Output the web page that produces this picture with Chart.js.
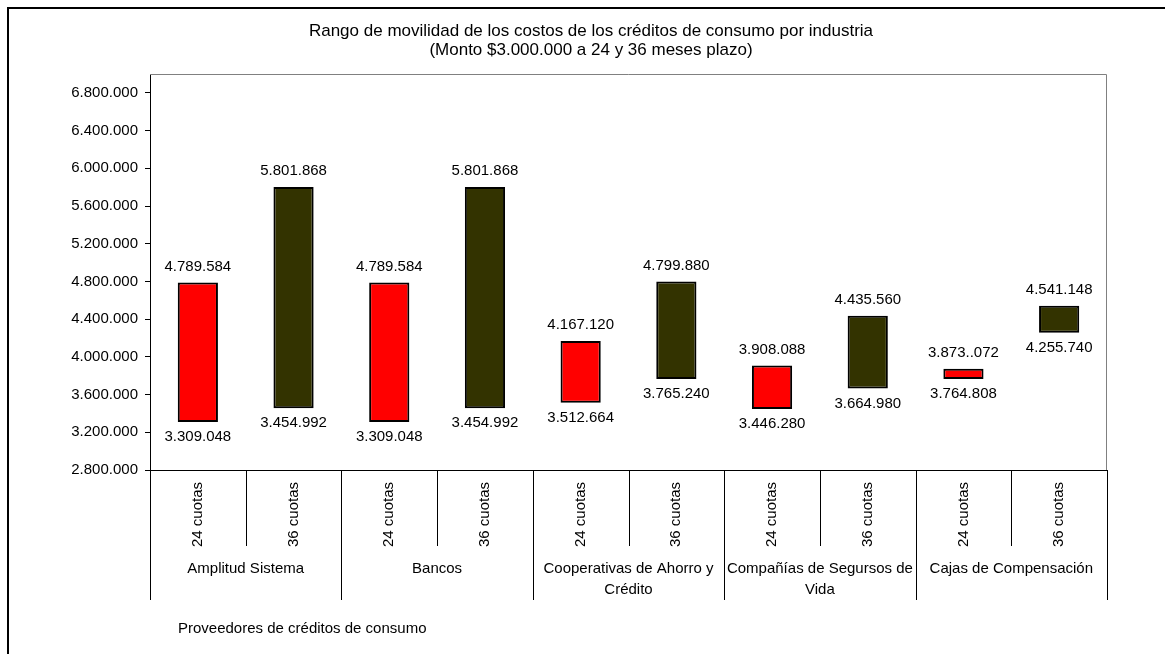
<!DOCTYPE html>
<html>
<head>
<meta charset="utf-8">
<script src="https://cdn.jsdelivr.net/npm/chart.js@4/dist/chart.umd.min.js"></script>
<style>
    body { margin: 0; background: #ffffff; }
    canvas { display: block; }
</style>
</head>
<body>
<canvas id="rangeChart" width="1165" height="654"></canvas>
<script>

//Providers (groups) and the two terms shown inside each group

const providers = [
    ["Amplitud Sistema"],
    ["Bancos"],
    ["Cooperativas de Ahorro y", "Crédito"],
    ["Compañías de Segursos de", "Vida"],
    ["Cajas de Compensación"]
];

const terms = ["24 cuotas", "36 cuotas"];

//Low and high cost for each provider, 24 months

const low24 = [3309048, 3309048, 3512664, 3446280, 3764808];
const high24 = [4789584, 4789584, 4167120, 3908088, 3873072];

//Low and high cost for each provider, 36 months

const low36 = [3454992, 3454992, 3765240, 3664980, 4255740];
const high36 = [5801868, 5801868, 4799880, 4435560, 4541148];

//Y axis range and the ticks that carry a label

const yMin = 2800000;
const yMax = 7000000;
const yTicks = [2800000, 3200000, 3600000, 4000000, 4400000, 4800000, 5200000, 5600000, 6000000, 6400000, 6800000];

//The chart shows one label with a double dot, keep it as it is

const labelFix = { "3.873.072": "3.873..072" };

const FONT = "'Liberation Sans', Arial, sans-serif";

function formatNumber(v){

    const text = String(Math.round(v)).replace(/\B(?=(\d{3})+(?!\d))/g, ".");

    return labelFix[text] || text;

}

//Build the 10 categories: each provider has a 24 and a 36 cuotas slot

const labels = [];
const data24 = [];
const data36 = [];

providers.forEach(function(p, i){

    labels.push(terms[0]);
    labels.push(terms[1]);

    data24.push([low24[i], high24[i]]);
    data24.push(null);

    data36.push(null);
    data36.push([low36[i], high36[i]]);

});

//Plugin for the frame, title, value labels and the two level x axis

const decorations = {

    id: "decorations",

    afterDraw: function(chart){

        const ctx = chart.ctx;
        const area = chart.chartArea;
        const xScale = chart.scales.x;

        ctx.save();

        //outer frame (left and top only are visible)
        ctx.strokeStyle = "#000000";
        ctx.lineWidth = 2;
        ctx.beginPath();
        ctx.moveTo(8, 654);
        ctx.lineTo(8, 8);
        ctx.lineTo(1165, 8);
        ctx.stroke();

        //gray top and right border of the plot
        ctx.strokeStyle = "#808080";
        ctx.lineWidth = 1;
        ctx.beginPath();
        ctx.moveTo(area.left, area.top + 0.5);
        ctx.lineTo(area.right - 0.5, area.top + 0.5);
        ctx.lineTo(area.right - 0.5, area.bottom);
        ctx.stroke();

        //title
        ctx.fillStyle = "#000000";
        ctx.font = "17px " + FONT;
        ctx.textAlign = "center";
        ctx.textBaseline = "middle";
        ctx.fillText("Rango de movilidad de los costos de los créditos de consumo por industria", 591, 31);
        ctx.fillText("(Monto $3.000.000 a 24 y 36 meses plazo)", 591, 50);

        //value labels above and below each bar
        ctx.font = "15px " + FONT;

        chart.data.datasets.forEach(function(ds, d){

            const meta = chart.getDatasetMeta(d);

            meta.data.forEach(function(bar, i){

                const v = ds.data[i];

                if(!v){ return; }

                ctx.fillText(formatNumber(v[1]), bar.x, bar.y - 16);
                ctx.fillText(formatNumber(v[0]), bar.x, bar.base + 15);

            });

        });

        //x axis: separators between slots and groups
        const bottom = area.bottom;
        const slotW = (xScale.right - xScale.left) / labels.length;

        ctx.strokeStyle = "#000000";
        ctx.lineWidth = 1;

        for(let i = 0; i <= labels.length; i++){

            const x = Math.round(xScale.left + i * slotW) + 0.5;
            const end = (i % 2 === 0) ? 600 : 546;

            ctx.beginPath();
            ctx.moveTo(x, bottom);
            ctx.lineTo(x, end);
            ctx.stroke();

        }

        //rotated term labels
        labels.forEach(function(label, i){

            const x = xScale.getPixelForValue(i);

            ctx.save();
            ctx.translate(x, bottom + 12);
            ctx.rotate(-Math.PI / 2);
            ctx.textAlign = "right";
            ctx.textBaseline = "middle";
            ctx.fillText(label, 0, 0);
            ctx.restore();

        });

        //provider names
        ctx.textAlign = "center";
        ctx.textBaseline = "middle";

        providers.forEach(function(lines, i){

            const x = (xScale.getPixelForValue(2 * i) + xScale.getPixelForValue(2 * i + 1)) / 2;

            lines.forEach(function(line, k){

                ctx.fillText(line, x, 569 + k * 21);

            });

        });

        //axis title
        ctx.textAlign = "left";
        ctx.fillText("Proveedores de créditos de consumo", 178, 629);

        ctx.restore();

    }

};

const chartCanvas =
document.querySelector("#rangeChart");

new Chart(chartCanvas, {

    type: "bar",

    data: {

        labels: labels,

        datasets: [

            {
                label: terms[0],
                data: data24,
                backgroundColor: "#ff0000",
                borderColor: "#000000",
                borderWidth: 2,
                borderSkipped: false,
                grouped: false
            },

            {
                label: terms[1],
                data: data36,
                backgroundColor: "#333300",
                borderColor: "#000000",
                borderWidth: 2,
                borderSkipped: false,
                grouped: false
            }

        ]

    },

    options: {

        responsive: false,
        animation: false,
        devicePixelRatio: 1,

        categoryPercentage: 1,
        barPercentage: 0.42,

        layout: {
            padding: { left: 0, top: 74, right: 58, bottom: 0 }
        },

        scales: {

            x: {
                ticks: { display: false },
                grid: { display: false },
                border: { color: "#000000", width: 1 },
                afterFit: function(scale){ scale.height = 184; }
            },

            y: {
                min: yMin,
                max: yMax,
                ticks: {
                    padding: 7,
                    color: "#000000",
                    font: { family: FONT, size: 15 },
                    callback: function(v){ return formatNumber(v); }
                },
                grid: {
                    drawOnChartArea: false,
                    drawTicks: true,
                    tickLength: 5,
                    color: "#000000"
                },
                border: { color: "#000000", width: 1 },
                afterBuildTicks: function(scale){
                    scale.ticks = yTicks.map(function(v){ return { value: v }; });
                },
                afterFit: function(scale){ scale.width = 150; }
            }

        },

        plugins: {
            legend: { display: false },
            tooltip: { enabled: false },
            title: { display: false }
        }

    },

    plugins: [decorations]

});

</script>
</body>
</html>
